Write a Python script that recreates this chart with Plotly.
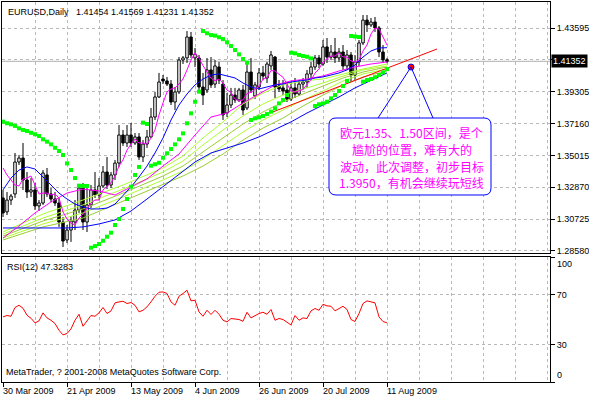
import plotly.graph_objects as go

# ---------------- data ----------------
DATE_TICK_BARS = [0, 16, 32, 48, 64, 80, 96]
DATE_TICK_LABELS = ["30 Mar 2009", "21 Apr 2009", "13 May 2009", "4 Jun 2009",
                    "26 Jun 2009", "20 Jul 2009", "11 Aug 2009"]
GRID_BARS = list(range(0, 137, 8))

PRICE_TICKS = [1.43595, 1.41450, 1.39305, 1.37160, 1.35015, 1.32870, 1.30725, 1.28580]
PRICE_TICK_LABELS = ["1.43595", "", "1.39305", "1.37160", "1.35015", "1.32870", "1.30725", "1.28580"]
LAST_PRICE = 1.41352
RSI_TICKS = [0, 30, 70, 100]
RSI_TICK_LABELS = ["", "30", "70", ""]

OPEN = [1.3215,1.3121,1.3201,1.3242,1.3457,1.3484,1.3336,1.3255,1.3269,1.3161,
        1.3181,1.3370,1.3242,1.3208,1.3181,1.3053,1.2932,1.2999,1.3053,1.3134,
        1.3282,1.3053,1.3168,1.3269,1.3235,1.3296,1.3390,1.3302,1.3370,1.3450,
        1.3639,1.3585,1.3639,1.3585,1.3626,1.3491,1.3578,1.3626,1.3760,1.3895,
        1.4016,1.4003,1.3982,1.3861,1.3929,1.4144,1.4158,1.4299,1.4158,1.4158,
        1.3962,1.3942,1.4077,1.3982,1.4097,1.3982,1.3787,1.3841,1.3908,1.3875,
        1.3942,1.3821,1.4063,1.3902,1.3962,1.4057,1.4023,1.4104,1.4164,1.3969,
        1.3956,1.3942,1.3881,1.3956,1.3915,1.3982,1.3996,1.4050,1.4097,1.4158,
        1.4117,1.4232,1.4164,1.4198,1.4158,1.4198,1.4104,1.4178,1.4043,1.4131,
        1.4259,1.4413,1.4380,1.4400,1.4360,1.4198,1.41454]
HIGH = [1.3269,1.3255,1.3242,1.3518,1.3504,1.3585,1.3390,1.3349,1.3316,1.3201,
        1.3403,1.3417,1.3282,1.3255,1.3215,1.3087,1.3033,1.3087,1.3201,1.3309,
        1.3316,1.3282,1.3302,1.3390,1.3349,1.3430,1.3491,1.3390,1.3471,1.3706,
        1.3673,1.3706,1.3720,1.3652,1.3652,1.3605,1.3673,1.3821,1.3929,1.4057,
        1.4043,1.4030,1.4009,1.3962,1.4164,1.4171,1.4339,1.4333,1.4225,1.4178,
        1.4057,1.4158,1.4164,1.4144,1.4131,1.4009,1.3922,1.3956,1.3956,1.3956,
        1.3976,1.4131,1.4158,1.3996,1.4090,1.4104,1.4131,1.4205,1.4171,1.4009,
        1.4009,1.3996,1.3996,1.4023,1.4009,1.4023,1.4077,1.4131,1.4178,1.4178,
        1.4279,1.4292,1.4245,1.4292,1.4225,1.4245,1.4211,1.4198,1.4178,1.4279,
        1.4447,1.4447,1.4427,1.4434,1.4373,1.4245,1.41569]
LOW = [1.3087,1.3100,1.3168,1.3215,1.3437,1.3269,1.3215,1.3222,1.3134,1.3127,
       1.3168,1.3222,1.3188,1.3161,1.3020,1.2885,1.2912,1.2919,1.2999,1.3114,
       1.2999,1.2986,1.3147,1.3215,1.3201,1.3282,1.3275,1.3282,1.3336,1.3424,
       1.3565,1.3558,1.3558,1.3572,1.3471,1.3457,1.3552,1.3619,1.3740,1.3888,
       1.3982,1.3969,1.3841,1.3807,1.3915,1.4117,1.4124,1.4158,1.4097,1.3942,
       1.3841,1.3922,1.3956,1.3956,1.3982,1.3740,1.3760,1.3821,1.3855,1.3861,
       1.3774,1.3807,1.3922,1.3881,1.3942,1.4009,1.3989,1.4077,1.3888,1.3929,
       1.3908,1.3861,1.3868,1.3888,1.3902,1.3942,1.3956,1.4016,1.4077,1.4090,
       1.4104,1.4124,1.4144,1.4124,1.4131,1.4077,1.4077,1.3996,1.4009,1.4104,
       1.4245,1.4333,1.4366,1.4333,1.4164,1.4124,1.41231]
CLOSE = [1.3114,1.3201,1.3228,1.3457,1.3484,1.3336,1.3255,1.3269,1.3161,1.3181,
         1.3383,1.3242,1.3208,1.3181,1.3053,1.2925,1.2999,1.3060,1.3134,1.3282,
         1.3053,1.3168,1.3269,1.3235,1.3296,1.3390,1.3302,1.3370,1.3450,1.3639,
         1.3585,1.3639,1.3585,1.3626,1.3491,1.3578,1.3626,1.3760,1.3895,1.3996,
         1.4003,1.3982,1.3861,1.3929,1.4144,1.4158,1.4299,1.4178,1.4184,1.3962,
         1.3908,1.4077,1.3976,1.4104,1.4009,1.3774,1.3841,1.3908,1.3875,1.3942,
         1.3807,1.4063,1.3942,1.3976,1.4057,1.4036,1.4117,1.4178,1.3962,1.3949,
         1.3935,1.3881,1.3956,1.3915,1.3982,1.3996,1.4050,1.4097,1.4158,1.4117,
         1.4232,1.4164,1.4198,1.4158,1.4198,1.4104,1.4178,1.4043,1.4131,1.4259,
         1.4413,1.4380,1.4400,1.4360,1.4198,1.4145,1.41352]

# fast magenta average, one value per bar
MA_FAST_PINK = [1.3417,1.3370,1.3336,1.3302,1.3296,1.3343,1.3349,1.3363,1.3302,1.3242,
                1.3248,1.3248,1.3235,1.3242,1.3215,1.3121,1.3073,1.3046,1.3033,1.3080,
                1.3107,1.3141,1.3181,1.3201,1.3201,1.3269,1.3296,1.3316,1.3363,1.3430,
                1.3471,1.3538,1.3578,1.3612,1.3585,1.3585,1.3578,1.3619,1.3673,1.3774,
                1.3855,1.3929,1.3949,1.3956,1.3982,1.4016,1.4077,1.4144,1.4192,1.4156,
                1.4106,1.4062,1.4021,1.4005,1.4015,1.3988,1.3941,1.3927,1.3881,1.3868,
                1.3875,1.3919,1.3926,1.3946,1.3969,1.4015,1.4025,1.4073,1.4070,1.4048,
                1.4028,1.3981,1.3937,1.3927,1.3934,1.3946,1.3980,1.4008,1.4056,1.4083,
                1.4131,1.4151,1.4171,1.4171,1.4191,1.4164,1.4164,1.4137,1.4131,1.4144,
                1.4205,1.4245,1.4319,1.4359,1.4353,1.4299,1.4245]

# blue medium average, read every 2 bars
MA_BLUE_BARS = list(range(0, 97, 2))
MA_BLUE = [1.3269,1.3349,1.3403,1.3424,1.3410,1.3356,1.3296,1.3248,1.3208,1.3174,
           1.3154,1.3141,1.3141,1.3147,1.3174,1.3228,1.3289,1.3356,1.3430,1.3518,
           1.3619,1.3740,1.3841,1.3915,1.3976,1.4016,1.4043,1.4050,1.4036,1.4023,
           1.3989,1.3962,1.3949,1.3962,1.3976,1.3982,1.3996,1.4003,1.4009,1.4023,
           1.4030,1.4043,1.4057,1.4077,1.4110,1.4164,1.4205,1.4225,1.4227]

# slow lines, read every 4 bars
SLOW_BARS = list(range(0, 97, 4))
MA_SLOW_BLUE = [1.3013,1.3013,1.3013,1.3013,1.3013,1.3020,1.3040,1.3067,1.3127,1.3208,
                1.3289,1.3376,1.3457,1.3518,1.3552,1.3585,1.3626,1.3679,1.3727,1.3787,
                1.3841,1.3895,1.3956,1.4009,1.4057]
MA_SLOW_PINK = [1.2945,1.3026,1.3114,1.3188,1.3248,1.3275,1.3262,1.3235,1.3289,1.3343,
                1.3430,1.3511,1.3639,1.3760,1.3787,1.3855,1.3915,1.3976,1.4003,1.4016,
                1.4036,1.4070,1.4097,1.4117,1.4131]

# yellow-green ribbon
RIBBON_BARS = [0, 10, 20, 30, 40, 45, 50, 55, 60, 65, 70, 75, 80, 85, 90, 96]
RIBBON_1 = [1.2986,1.3107,1.3201,1.3302,1.3417,1.3498,1.3619,1.3727,1.3848,1.3922,1.3976,1.4003,1.4016,1.4050,1.4083,1.4117]
RIBBON_2 = [1.2972,1.3080,1.3168,1.3275,1.3390,1.3464,1.3572,1.3673,1.3767,1.3848,1.3908,1.3949,1.3989,1.4036,1.4077,1.4104]
RIBBON_3 = [1.2959,1.3060,1.3141,1.3248,1.3363,1.3430,1.3525,1.3619,1.3713,1.3794,1.3861,1.3915,1.3969,1.4023,1.4063,1.4097]
RIBBON_4 = [1.2945,1.3040,1.3114,1.3222,1.3336,1.3397,1.3477,1.3565,1.3659,1.3740,1.3807,1.3875,1.3935,1.4003,1.4050,1.4083]
RIBBON_5 = [1.2932,1.3020,1.3080,1.3195,1.3309,1.3363,1.3430,1.3511,1.3605,1.3686,1.3753,1.3834,1.3908,1.3976,1.4030,1.4070]

# parabolic SAR dots, one per bar
SAR = [1.3729,1.3718,1.3711,1.3700,1.3684,1.3673,1.3666,1.3654,1.3644,1.3632,
       1.3610,1.3594,1.3576,1.3553,1.3531,1.3504,1.3448,1.3403,1.3349,1.3298,
       1.3296,1.3296,1.2880,1.2891,1.2905,1.2927,1.2954,1.2981,1.3033,1.3073,
       1.3141,1.3208,1.3291,1.3370,1.3424,1.3722,1.3713,1.3432,1.3442,1.3452,
       1.3486,1.3516,1.3545,1.3576,1.3610,1.3650,1.3718,1.3785,1.3863,1.3931,
       1.4339,1.4324,1.4312,1.4308,1.4297,1.4285,1.4263,1.4238,1.4211,1.4182,
       1.4151,1.4126,1.3740,1.3751,1.3758,1.3767,1.3780,1.3796,1.3819,1.3852,
       1.3875,1.3908,1.4193,1.4189,1.4178,1.4171,1.4166,1.4155,1.3834,1.3846,
       1.3852,1.3863,1.3886,1.3908,1.3935,1.3969,1.4003,1.4306,1.4302,1.4299,
       1.3998,1.4009,1.4016,1.4028,1.4043,1.4061,1.4083]

RSI = [52.1,53.2,52.6,59.6,61.4,59.0,53.4,51.0,47.3,48.9,
       55.3,51.3,49.4,46.8,41.4,37.7,38.8,42.5,49.4,54.2,
       44.6,48.9,53.2,52.6,55.3,59.6,54.8,56.9,63.3,64.1,
       64.6,62.8,63.6,61.4,56.1,57.4,60.1,64.1,68.6,71.8,
       72.1,70.8,64.1,61.4,68.6,70.8,73.4,64.9,65.4,56.1,
       52.6,57.4,54.0,57.4,54.2,49.4,48.1,50.8,50.2,50.0,
       48.6,55.8,51.3,53.2,54.8,55.8,54.2,58.0,49.4,50.8,
       50.0,47.8,45.7,53.2,49.4,51.3,50.8,56.9,58.8,57.4,
       62.2,60.9,60.6,56.9,58.8,60.6,58.0,50.0,48.4,54.8,
       62.8,64.9,64.1,63.3,52.1,48.4,47.3283]

TREND_BARS = [66.75, 108.5]
TREND_PRICES = [1.3787, 1.4218]
TARGET_BAR, TARGET_PRICE = 102, 1.40969
CALLOUT_LEFT_BAR, CALLOUT_RIGHT_BAR = 81.5, 122.0
CALLOUT_TOP, CALLOUT_BOTTOM = 1.37535, 1.32350
POINTER_BARS = [93.75, 107.5]

TITLE = "EURUSD,Daily\u00a0\u00a0 1.41454 1.41569 1.41231 1.41352"
RSI_TITLE = "RSI(12) 47.3283"
COPYRIGHT = "MetaTrader, ? 2001-2008 MetaQuotes Software Corp."
NOTE_LINES = ["欧元1.35、1.50区间，是个",
              "尴尬的位置，难有大的",
              "波动，此次调整，初步目标",
              "1.3950，有机会继续玩短线"]

# ---------------- layout geometry (pixels) ----------------
W, H = 589, 398
PL, PR, PT, PB = 2, 550, 2, 382
MAIN_BOTTOM = 253
RSI_TOP = 257
X_RANGE = [-0.25, 136.75]
Y_RANGE = [1.28444, 1.45346]

GRID = "#b8b8b8"
DASH = "3px,3px"
LATIN = "Liberation Sans, Arial, sans-serif"
CJK = "Noto Sans CJK SC"
FS = 9


def px(x):
    return (x - PL) / (PR - PL)


def py(y):
    return (PB - y) / (PB - PT)


fig = go.Figure()

# wicks (above and below the bodies)
wx, wy = [], []
for i, (o, h, l, c) in enumerate(zip(OPEN, HIGH, LOW, CLOSE)):
    top, bot = max(o, c), min(o, c)
    wx += [i, i, None, i, i, None]
    wy += [h, top, None, bot, l, None]
fig.add_trace(go.Scatter(x=wx, y=wy, mode="lines", line=dict(color="black", width=1),
                         hoverinfo="skip", showlegend=False, xaxis="x", yaxis="y"))

up_x, up_b, up_h, dn_x, dn_b, dn_h = [], [], [], [], [], []
for i, (o, c) in enumerate(zip(OPEN, CLOSE)):
    b = min(o, c)
    hgt = max(abs(c - o), 0.00008)
    if c >= o:
        up_x.append(i); up_b.append(b); up_h.append(hgt)
    else:
        dn_x.append(i); dn_b.append(b); dn_h.append(hgt)
fig.add_trace(go.Bar(x=up_x, y=up_h, base=up_b, width=0.62,
                     marker=dict(color="white", line=dict(color="black", width=1)),
                     hoverinfo="skip", showlegend=False, xaxis="x", yaxis="y"))
fig.add_trace(go.Bar(x=dn_x, y=dn_h, base=dn_b, width=0.62,
                     marker=dict(color="black", line=dict(color="black", width=1)),
                     hoverinfo="skip", showlegend=False, xaxis="x", yaxis="y"))


def add_line(xs, ys, color):
    fig.add_trace(go.Scatter(x=xs, y=ys, mode="lines", line=dict(color=color, width=1),
                             hoverinfo="skip", showlegend=False, xaxis="x", yaxis="y"))


for rib, col in zip([RIBBON_5, RIBBON_4, RIBBON_3, RIBBON_2, RIBBON_1],
                    ["#9acd32", "#adff2f", "#9acd32", "#adff2f", "#adff2f"]):
    add_line(RIBBON_BARS, rib, col)
add_line(SLOW_BARS, MA_SLOW_BLUE, "#0000ff")
add_line(SLOW_BARS, MA_SLOW_PINK, "#ff00ff")
add_line(MA_BLUE_BARS, MA_BLUE, "#0000ff")
add_line(list(range(len(MA_FAST_PINK))), MA_FAST_PINK, "#ff00ff")
add_line(TREND_BARS, TREND_PRICES, "#ff0000")

fig.add_trace(go.Scatter(x=list(range(len(SAR))), y=SAR, mode="markers",
                         marker=dict(color="#00ff00", size=4, symbol="square", line=dict(width=0)),
                         hoverinfo="skip", showlegend=False, xaxis="x", yaxis="y"))

# pointer lines + target dot
for pb in POINTER_BARS:
    fig.add_shape(type="line", xref="x", yref="y", x0=TARGET_BAR, y0=TARGET_PRICE,
                  x1=pb, y1=CALLOUT_TOP, line=dict(color="#0000ff", width=1))
fig.add_trace(go.Scatter(x=[TARGET_BAR], y=[TARGET_PRICE], mode="markers",
                         marker=dict(color="#ff0000", size=6, line=dict(color="#0000ff", width=1)),
                         hoverinfo="skip", showlegend=False, xaxis="x", yaxis="y"))

# RSI
fig.add_trace(go.Scatter(x=list(range(len(RSI))), y=RSI, mode="lines",
                         line=dict(color="#ff0000", width=1), hoverinfo="skip",
                         showlegend=False, xaxis="x2", yaxis="y2"))

# last price line
fig.add_shape(type="line", xref="x", yref="y", x0=X_RANGE[0], x1=X_RANGE[1],
              y0=LAST_PRICE, y1=LAST_PRICE, line=dict(color="#b0b0b0", width=1), layer="below")

# callout rounded box
rx, ry = 1.75, 0.0047
x0, x1, y0, y1 = CALLOUT_LEFT_BAR, CALLOUT_RIGHT_BAR, CALLOUT_BOTTOM, CALLOUT_TOP
path = (f"M {x0+rx},{y1} L {x1-rx},{y1} Q {x1},{y1} {x1},{y1-ry} "
        f"L {x1},{y0+ry} Q {x1},{y0} {x1-rx},{y0} L {x0+rx},{y0} "
        f"Q {x0},{y0} {x0},{y0+ry} L {x0},{y1-ry} Q {x0},{y1} {x0+rx},{y1} Z")
fig.add_shape(type="path", path=path, xref="x", yref="y",
              line=dict(color="#0000ff", width=1), fillcolor="white", layer="above")

ann = []
ann.append(dict(text=TITLE, x=px(6), y=py(12), xref="paper", yref="paper",
                xanchor="left", yanchor="middle", showarrow=False,
                font=dict(family=LATIN, size=FS, color="black")))
ann.append(dict(text=RSI_TITLE, x=px(5), y=py(267), xref="paper", yref="paper",
                xanchor="left", yanchor="middle", showarrow=False,
                font=dict(family=LATIN, size=FS, color="black")))
ann.append(dict(text=COPYRIGHT, x=px(4), y=py(372), xref="paper", yref="paper",
                xanchor="left", yanchor="middle", showarrow=False,
                font=dict(family=LATIN, size=FS, color="black")))
for b, lab in zip(DATE_TICK_BARS, DATE_TICK_LABELS):
    ann.append(dict(text=lab, x=b, xref="x2", y=py(384), yref="paper", xanchor="left",
                    yanchor="top", showarrow=False, xshift=-2,
                    font=dict(family=LATIN, size=FS, color="black")))
ann.append(dict(text="1.41352", x=px(551), y=LAST_PRICE, xref="paper", yref="y",
                xanchor="left", yanchor="middle", showarrow=False, bgcolor="black",
                borderpad=1, font=dict(family=LATIN, size=FS, color="white")))
ann.append(dict(text="100", x=px(555), y=100, xref="paper", yref="y2", xanchor="left",
                yanchor="top", showarrow=False, font=dict(family=LATIN, size=FS, color="black")))
ann.append(dict(text="0", x=px(555), y=0, xref="paper", yref="y2", xanchor="left",
                yanchor="bottom", showarrow=False, font=dict(family=LATIN, size=FS, color="black")))
for k, line in enumerate(NOTE_LINES):
    ann.append(dict(text=line, x=px(411.5), y=py(133 + 16.6 * k), xref="paper", yref="paper",
                    xanchor="center", yanchor="middle", showarrow=False,
                    font=dict(family=CJK, size=12, color="#ff00ff")))

axis_common = dict(showline=True, mirror=True, linecolor="black", linewidth=1,
                   zeroline=False, showgrid=True, gridcolor=GRID, griddash=DASH, gridwidth=1,
                   automargin=False)

fig.update_layout(
    width=W, height=H, margin=dict(l=PL, r=W - PR, t=PT, b=H - PB, autoexpand=False),
    paper_bgcolor="white", plot_bgcolor="white", barmode="overlay", showlegend=False,
    hovermode=False,
    xaxis=dict(domain=[0, 1], anchor="y", range=X_RANGE, tickmode="array",
               tickvals=GRID_BARS, showticklabels=False, ticks="", **axis_common),
    yaxis=dict(domain=[py(MAIN_BOTTOM), 1], anchor="x", range=Y_RANGE, side="right",
               tickmode="array", tickvals=PRICE_TICKS, ticktext=PRICE_TICK_LABELS,
               ticks="outside", ticklen=4, tickcolor="black",
               tickfont=dict(family=LATIN, size=FS, color="black"), **axis_common),
    xaxis2=dict(domain=[0, 1], anchor="y2", range=X_RANGE, tickmode="array",
                tickvals=DATE_TICK_BARS, showticklabels=False, ticks="outside", ticklen=4,
                tickcolor="black",
                minor=dict(tickmode="array",
                           tickvals=[b for b in GRID_BARS if b not in DATE_TICK_BARS],
                           showgrid=True, gridcolor=GRID, griddash=DASH, ticks=""),
                **axis_common),
    yaxis2=dict(domain=[0, py(RSI_TOP)], anchor="x2", range=[0, 100], side="right",
                tickmode="array", tickvals=RSI_TICKS, ticktext=RSI_TICK_LABELS,
                ticks="outside", ticklen=4, tickcolor="black",
                tickfont=dict(family=LATIN, size=FS, color="black"), **axis_common),
    annotations=ann,
)

fig.write_html("out.html", config={"displayModeBar": False},
               post_script="document.body.style.margin='0';document.body.style.overflow='hidden';")
